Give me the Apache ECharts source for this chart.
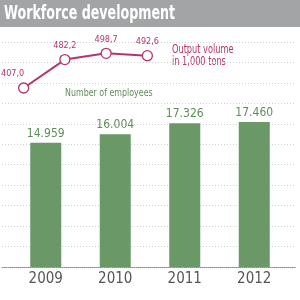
<!DOCTYPE html>
<html lang="en">
<head>
    <meta charset="UTF-8">
    <title>Workforce development</title>
    <script src="https://cdn.jsdelivr.net/npm/echarts@6/dist/echarts.min.js"></script>
    <style>
        html, body {
            margin: 0;
            padding: 0;
            width: 100%;
            height: 100%;
            background: #fff;
        }
        #chart {
            width: 300px;
            height: 300px;
        }
    </style>
</head>
<body>
<div id="chart"></div>
<script>
    // data
    let years = ["2009", "2010", "2011", "2012"];
    let employees = [14959, 16004, 17326, 17460];
    let output = [407.0, 482.2, 498.7, 492.6];
    let gridRows = [0, 1, 2, 3, 4, 5, 6, 7, 8, 9, 10, 11];

    let font = '"DejaVu Sans Condensed", "Liberation Sans", sans-serif';
    let green = "#6a9866";
    let greenText = "#5e8d59";
    let magenta = "#b8336c";

    function fmtThousands(v) {
        return String(v).replace(/\B(?=(\d{3})+(?!\d))/g, ".");
    }

    let lineData = output.map(function (v, i) {
        let item = {value: v};
        if (i === 0) {
            item.label = {offset: [-11, 0]};
        }
        return item;
    });

    // squeezed text, the original uses a condensed face
    function label(txt, x, y, css, color, sx) {
        return {
            type: "text",
            x: x, y: y,
            scaleX: sx,
            silent: true,
            style: {
                text: txt,
                fill: color,
                font: css,
                verticalAlign: "middle",
                align: "left"
            }
        };
    }

    let chart = echarts.init(document.getElementById("chart"), null, {renderer: "canvas"});

    chart.setOption({
        animation: false,
        grid: [
            // background grid lines
            {left: 2, right: 4, top: 42, height: 225},
            // bars
            {left: 11, width: 278, top: 42, height: 225},
            // output line
            {left: 3, width: 165, top: 42, height: 60}
        ],
        xAxis: [
            {
                gridIndex: 0, type: "category", data: gridRows,
                axisLine: {lineStyle: {color: "#8a8a8a", type: [1, 1], width: 1}},
                axisTick: {show: false}, axisLabel: {show: false}
            },
            {
                gridIndex: 1, type: "category", data: years,
                axisLine: {show: false}, axisTick: {show: false},
                axisLabel: {color: "#555", fontSize: 15, fontFamily: font, margin: 5}
            },
            {
                gridIndex: 2, type: "category", data: years, show: false
            }
        ],
        yAxis: [
            {
                gridIndex: 0, type: "value", min: 0, max: 11, interval: 1,
                axisLine: {show: false}, axisTick: {show: false}, axisLabel: {show: false},
                splitLine: {lineStyle: {color: "#cfcfcf", type: [1, 2], width: 1}}
            },
            {
                gridIndex: 1, type: "value", min: 0, max: 27100, show: false,
                splitLine: {show: false}
            },
            {
                gridIndex: 2, type: "value", min: 370, max: 528.7, show: false,
                splitLine: {show: false}
            }
        ],
        series: [
            {
                type: "bar",
                xAxisIndex: 1,
                yAxisIndex: 1,
                data: employees,
                barWidth: 31,
                itemStyle: {color: green},
                label: {
                    show: true,
                    position: "top",
                    distance: 3,
                    color: greenText,
                    fontSize: 12,
                    fontFamily: font,
                    formatter: function (p) {
                        return fmtThousands(p.value);
                    }
                }
            },
            {
                type: "line",
                xAxisIndex: 2,
                yAxisIndex: 2,
                data: lineData,
                symbol: "circle",
                symbolSize: 10,
                lineStyle: {color: magenta, width: 2},
                itemStyle: {color: "#fff", borderColor: magenta, borderWidth: 1.3},
                label: {
                    show: true,
                    position: "top",
                    distance: 4,
                    color: magenta,
                    fontSize: 9,
                    fontFamily: font,
                    formatter: function (p) {
                        return p.value.toFixed(1).replace(".", ",");
                    }
                }
            }
        ],
        graphic: [
            {
                type: "rect",
                x: 0, y: 0,
                shape: {width: 300, height: 27},
                style: {fill: "#a3a4a6"},
                silent: true
            },
            label("Workforce development", 4, 14.5, "bold 19px " + font, "#fff", 0.74),
            label("Output volume", 172, 49.5, "12px " + font, magenta, 0.76),
            label("in 1,000 tons", 172, 62, "12px " + font, magenta, 0.76),
            label("Number of employees", 65, 93.5, "11px " + font, greenText, 0.8)
        ]
    });

    window.addEventListener("resize", function () {
        chart.resize();
    });
</script>
</body>
</html>
